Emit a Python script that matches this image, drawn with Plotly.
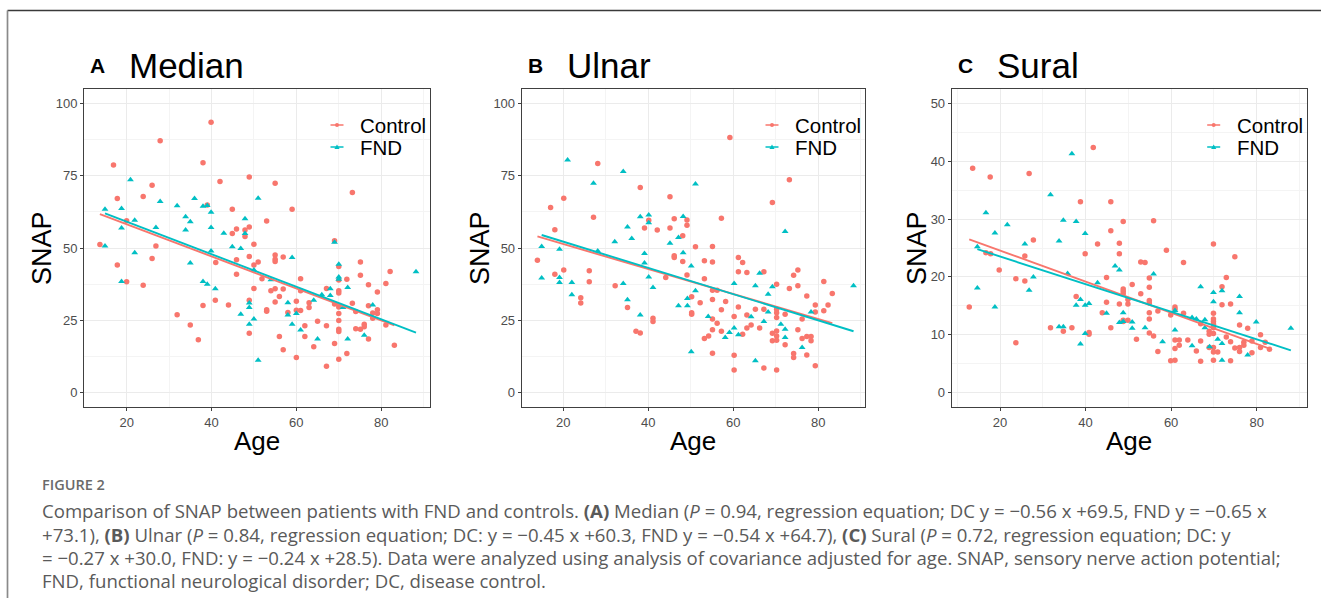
import plotly.graph_objects as go

W, H = 1321, 610

# ---------------- DATA ----------------
# Panel A: Median
ctrl_A_age = [13.7,16.9,17.8,17.8,20.0,20.0,23.9,23.9,26.0,26.0,26.9,27.9,31.9,35.0,36.9,38.0,38.0,39.0,39.9,40.9,41.0,42.0,44.0,44.9,44.9,45.9,45.9,45.9,47.9,47.9,48.9,48.9,48.9,48.9,48.9,50.0,50.0,50.0,51.0,51.9,53.0,54.0,53.0,53.0,55.0,55.0,55.0,55.0,55.0,55.0,56.0,56.0,56.9,56.9,56.9,58.0,59.0,60.0,60.0,60.0,61.0,61.0,61.0,62.0,62.0,63.0,63.0,64.1,65.0,67.1,67.1,67.1,69.0,69.0,69.0,70.0,70.0,70.0,70.0,70.0,70.0,70.0,70.0,70.0,70.0,71.9,71.9,73.2,73.2,74.0,74.0,75.1,75.1,75.1,76.0,76.0,77.0,77.0,77.0,78.0,78.0,79.1,79.1,79.1,81.1,81.1,82.1,83.1]
ctrl_A_snap = [51.2,78.7,67.1,44.1,38.3,59.4,67.8,37.1,71.7,46.4,50.7,87.1,26.9,23.4,18.3,79.5,30.1,64.9,93.5,31.9,45.0,73.0,30.3,63.4,55.0,56.6,45.9,40.9,56.2,54.0,74.6,57.3,47.1,31.9,20.5,51.3,44.1,36.0,45.2,39.4,59.3,35.2,28.6,28.1,72.4,47.6,46.1,45.3,35.9,31.3,33.2,19.4,46.9,35.8,14.8,27.7,63.4,31.6,28.5,12.1,39.4,35.2,28.4,23.1,19.4,31.1,29.4,15.8,24.7,36.0,23.1,9.1,52.5,30.6,17.0,43.6,38.9,35.2,34.4,29.6,27.3,24.9,21.9,21.1,11.5,39.2,13.5,69.2,30.9,28.0,22.1,45.2,40.6,21.9,23.6,22.8,37.3,30.0,18.5,27.5,25.7,34.8,28.6,27.3,37.7,23.4,41.9,16.4]
fnd_A_age = [14.9,14.9,18.8,18.8,18.8,20.9,21.9,21.9,26.9,27.9,31.9,33.9,33.9,35.0,35.0,36.0,38.0,38.0,39.0,39.0,39.9,39.9,39.9,40.9,42.9,44.9,46.9,46.9,47.9,47.9,48.9,48.9,48.9,50.0,50.0,51.0,51.0,54.0,58.0,58.0,59.0,59.0,60.0,61.0,64.1,65.0,66.0,68.0,68.0,69.0,70.0,70.0,70.0,71.0,72.1,72.1,76.0,78.0,88.2]
fnd_A_snap = [63.4,50.7,63.7,56.9,38.4,73.6,59.6,48.4,57.1,66.1,64.6,60.8,56.2,59.1,44.8,67.1,64.4,38.4,64.7,37.5,62.4,57.1,49.0,35.9,55.1,50.4,49.8,27.1,60.1,55.0,31.0,29.4,23.6,25.4,42.4,67.2,11.2,39.0,31.1,26.8,46.7,23.6,27.3,21.6,31.9,18.5,33.8,35.9,33.6,52.0,44.4,40.0,39.2,29.4,36.3,18.5,19.8,30.3,41.8]
fit_A_ctrl_age = [13.7, 83.1]
fit_A_ctrl_snap = [61.7, 23.2]
fit_A_fnd_age = [14.9, 88.2]
fit_A_fnd_snap = [62.0, 20.7]

# Panel B: Ulnar
ctrl_B_age = [13.9,17.0,18.0,18.0,20.1,20.1,24.1,24.1,26.1,26.1,27.1,28.1,32.2,35.1,37.1,38.1,38.1,39.1,40.1,41.1,41.1,42.1,44.1,45.1,45.1,46.1,46.1,46.1,48.1,48.1,49.1,49.1,49.1,50.2,50.2,50.2,51.1,52.2,53.2,53.2,53.2,54.2,55.1,55.1,55.1,55.1,55.1,55.1,55.1,56.2,56.2,57.2,57.2,57.2,58.2,59.2,60.2,60.2,60.2,61.2,61.2,61.2,62.2,62.2,63.2,63.2,63.2,64.2,65.2,66.2,67.2,67.2,67.2,69.2,69.2,69.2,70.2,70.2,70.2,70.2,70.2,70.2,70.2,70.2,72.2,72.2,73.2,73.2,74.2,74.2,74.2,75.2,75.2,75.2,76.2,76.2,77.3,77.3,77.3,78.3,78.3,79.3,79.3,79.3,81.3,81.3,82.3,83.3]
ctrl_B_snap = [45.8,64.0,56.3,40.9,67.2,42.4,32.8,31.0,42.1,38.3,60.6,79.2,36.9,29.4,21.2,70.9,20.6,56.9,59.6,25.7,24.6,56.2,39.8,67.7,56.9,60.1,47.3,46.7,54.2,45.3,59.7,57.9,40.7,33.1,27.6,27.1,50.4,31.1,45.6,39.4,18.7,19.6,50.5,45.2,35.4,32.2,25.4,21.7,13.6,35.4,24.0,60.3,28.6,21.2,31.5,88.2,26.3,12.9,7.8,46.7,41.8,29.6,45.0,20.2,41.5,26.8,22.3,23.4,28.8,22.3,41.8,28.8,8.5,65.7,20.5,17.9,37.5,28.8,27.6,26.0,21.3,19.6,18.1,7.8,27.1,16.5,73.6,36.0,13.5,12.1,40.6,42.4,36.9,21.7,25.4,18.7,33.4,19.4,13.0,19.4,17.9,30.3,27.9,9.3,38.4,28.3,30.3,34.3]
fnd_B_age = [14.9,14.9,19.1,19.1,19.1,21.0,22.0,22.0,27.1,28.1,32.1,34.1,34.1,35.1,35.1,36.1,38.1,38.1,39.1,39.1,40.1,40.1,40.1,41.1,45.1,47.1,47.1,48.2,48.2,49.2,49.2,50.1,50.1,51.1,51.1,54.1,58.1,59.1,60.2,60.2,61.2,64.2,65.2,65.2,66.2,67.2,68.2,68.2,69.2,71.2,72.2,72.2,72.2,76.2,78.3,88.3]
fnd_B_snap = [50.5,39.6,49.6,39.8,38.1,80.4,38.1,33.8,72.4,49.0,52.2,76.5,37.7,57.3,32.1,53.3,60.8,26.8,48.1,44.8,61.4,58.7,40.0,36.3,51.6,53.6,30.0,60.9,48.4,32.5,30.0,43.8,14.1,72.1,35.2,26.3,19.0,20.8,37.7,22.3,20.0,26.2,36.9,11.0,41.3,24.6,27.9,34.0,36.6,23.6,55.7,21.9,19.0,15.6,27.9,36.9]
fit_B_ctrl_age = [13.9, 83.3]
fit_B_ctrl_snap = [54.0, 24.0]
fit_B_fnd_age = [14.9, 88.3]
fit_B_fnd_snap = [54.5, 21.2]

# Panel C: Sural
ctrl_C_age = [12.8,13.6,16.7,17.7,17.8,19.8,23.7,23.7,25.8,25.8,26.8,27.8,31.8,34.8,36.8,37.8,38.8,39.9,40.8,40.8,41.8,42.8,43.9,44.9,44.9,45.9,45.9,45.9,47.9,47.9,47.9,48.8,48.8,48.8,48.8,48.8,48.8,49.9,49.9,49.9,50.9,51.9,52.9,52.9,53.9,54.9,54.9,54.9,54.9,54.9,54.9,54.9,55.9,55.9,56.9,56.9,58.9,59.9,59.9,60.9,60.9,60.9,60.9,60.9,61.9,61.9,62.9,62.9,63.9,65.9,66.9,66.9,66.9,68.9,68.9,68.9,69.9,69.9,69.9,69.9,69.9,69.9,69.9,69.9,69.9,69.9,70.9,71.9,71.9,72.9,72.9,73.9,73.9,73.9,74.9,74.9,76.0,76.0,76.0,77.0,77.0,77.9,78.9,78.9,80.9,80.9,82.0,83.0]
ctrl_C_snap = [14.8,38.8,24.2,37.3,24.0,21.2,8.6,19.7,23.6,19.3,37.9,26.4,11.2,10.6,11.2,16.6,33.0,24.0,10.4,10.1,42.4,25.7,13.8,19.9,15.6,33.0,28.0,11.2,25.8,24.0,15.3,29.6,17.9,17.5,17.1,12.5,12.3,16.1,15.3,12.5,18.7,9.2,17.1,22.6,22.5,19.8,18.2,15.9,15.5,13.8,12.7,10.3,29.7,9.8,14.1,7.1,24.6,13.4,5.5,14.8,14.4,9.1,7.6,5.6,9.1,8.2,22.5,13.7,9.1,7.2,8.9,11.9,5.4,10.6,10.1,7.8,25.7,13.7,12.7,12.3,11.8,11.2,10.2,7.8,7.0,5.6,7.0,18.3,15.2,19.9,9.6,15.3,8.8,5.5,23.5,7.7,11.7,7.8,7.1,8.7,8.2,11.1,8.9,6.9,10.0,7.8,8.7,7.5]
fnd_C_age = [14.7,14.7,16.7,18.8,18.8,21.7,25.8,26.8,27.8,31.8,33.8,33.8,34.8,34.8,35.8,36.8,37.8,37.8,38.8,38.8,39.9,39.9,40.8,39.9,42.8,44.9,46.9,47.9,47.9,48.8,48.8,50.9,50.9,53.9,55.9,58.0,60.9,60.9,64.9,64.9,65.9,66.9,67.9,67.9,69.0,69.9,69.9,70.9,71.9,71.9,71.9,76.0,76.0,77.9,79.9,88.0]
fnd_C_snap = [25.2,18.1,31.1,27.6,14.8,29.0,25.7,17.7,20.0,34.2,26.2,11.4,29.8,11.4,20.6,41.3,29.6,15.1,16.1,8.4,27.5,15.1,15.4,10.2,19.0,13.7,21.9,21.2,12.1,13.8,12.3,12.2,11.1,11.2,20.5,8.8,14.2,10.8,13.0,8.1,12.7,18.3,12.6,11.2,7.9,17.3,15.7,9.2,17.6,8.5,5.6,16.6,13.8,6.5,12.2,11.1]
fit_C_ctrl_age = [12.8, 83.0]
fit_C_ctrl_snap = [26.5, 7.6]
fit_C_fnd_age = [14.7, 88.0]
fit_C_fnd_snap = [24.8, 7.3]

panel_letters = ["A", "B", "C"]
panel_titles = ["Median", "Ulnar", "Sural"]
group_names = ["Control", "FND"]
y_ticks_AB = [0, 25, 50, 75, 100]
y_ticks_C = [0, 10, 20, 30, 40, 50]
x_ticks = [20, 40, 60, 80]

caption_label = "FIGURE 2"
caption_lines = [
    "Comparison of SNAP between patients with FND and controls. <b>(A)</b> Median (<i>P</i> = 0.94, regression equation; DC y = \u22120.56 x +69.5, FND y = \u22120.65 x",
    "+73.1), <b>(B)</b> Ulnar (<i>P</i> = 0.84, regression equation; DC: y = \u22120.45 x +60.3, FND y = \u22120.54 x +64.7), <b>(C)</b> Sural (<i>P</i> = 0.72, regression equation; DC: y",
    "= \u22120.27 x +30.0, FND: y = \u22120.24 x +28.5). Data were analyzed using analysis of covariance adjusted for age. SNAP, sensory nerve action potential;",
    "FND, functional neurological disorder; DC, disease control.",
]

# ---------------- STYLE / LAYOUT ----------------
RED = "#F8766D"
TEAL = "#00BFC4"
FONT = "Arial, Liberation Sans, sans-serif"
CAP_FONT = "Open Sans, Lato, sans-serif"

def px(x):
    return x / W

def py(y):
    return 1 - y / H

panels = [
    dict(ctrl=(ctrl_A_age, ctrl_A_snap), fnd=(fnd_A_age, fnd_A_snap),
         fc=(fit_A_ctrl_age, fit_A_ctrl_snap), ff=(fit_A_fnd_age, fit_A_fnd_snap),
         xd=(84, 430), xr=[9.95, 91.5], yr=[-5, 105], yt=y_ticks_AB, ymin=12.5,
         snap_x=42),
    dict(ctrl=(ctrl_B_age, ctrl_B_snap), fnd=(fnd_B_age, fnd_B_snap),
         fc=(fit_B_ctrl_age, fit_B_ctrl_snap), ff=(fit_B_fnd_age, fit_B_fnd_snap),
         xd=(521.7, 865), xr=[10.2, 91.0], yr=[-5, 105], yt=y_ticks_AB, ymin=12.5,
         snap_x=480),
    dict(ctrl=(ctrl_C_age, ctrl_C_snap), fnd=(fnd_C_age, fnd_C_snap),
         fc=(fit_C_ctrl_age, fit_C_ctrl_snap), ff=(fit_C_fnd_age, fit_C_fnd_snap),
         xd=(951.7, 1306.7), xr=[8.7, 91.7], yr=[-2.5, 52.5], yt=y_ticks_C, ymin=5,
         snap_x=917),
]

TOP, BOT = 89, 407
LEG_Y = [125, 147]

fig = go.Figure()
layout = dict(width=W, height=H, margin=dict(l=0, r=0, t=0, b=0),
              paper_bgcolor="white", plot_bgcolor="white", showlegend=False)
annotations = []
shapes = [
    dict(type="line", xref="paper", yref="paper", x0=px(7.5), x1=1, y0=py(10.5), y1=py(10.5),
         line=dict(color="#3a3a3a", width=1.3)),
    dict(type="line", xref="paper", yref="paper", x0=px(7.5), x1=px(7.5), y0=py(10.5), y1=py(598),
         line=dict(color="#8a8a8a", width=1.7)),
]

for i, p in enumerate(panels):
    n = "" if i == 0 else str(i + 1)
    xa, ya = "x" + n, "y" + n
    fig.add_trace(go.Scatter(x=p["ctrl"][0], y=p["ctrl"][1], mode="markers", xaxis=xa, yaxis=ya,
                             name=group_names[0],
                             marker=dict(color=RED, size=5.5, symbol="circle")))
    fig.add_trace(go.Scatter(x=p["fnd"][0], y=p["fnd"][1], mode="markers", xaxis=xa, yaxis=ya,
                             name=group_names[1],
                             marker=dict(color=TEAL, size=6, symbol="triangle-up")))
    fig.add_trace(go.Scatter(x=p["fc"][0], y=p["fc"][1], mode="lines", xaxis=xa, yaxis=ya,
                             name=group_names[0], line=dict(color=RED, width=1.9)))
    fig.add_trace(go.Scatter(x=p["ff"][0], y=p["ff"][1], mode="lines", xaxis=xa, yaxis=ya,
                             name=group_names[1], line=dict(color=TEAL, width=1.9)))

    x0, x1 = p["xd"]
    common = dict(showline=True, mirror=True, linecolor="#404040", linewidth=1,
                  ticks="outside", ticklen=3, tickcolor="#404040", tickwidth=1,
                  showgrid=True, gridcolor="#EBEBEB", gridwidth=1, zeroline=False,
                  tickfont=dict(family=FONT, size=13, color="#4D4D4D"))
    layout["xaxis" + n] = dict(domain=[px(x0), px(x1)], range=p["xr"], anchor=ya,
                               tickmode="array", tickvals=x_ticks,
                               minor=dict(tickmode="array", tickvals=[10, 30, 50, 70, 90], showgrid=True,
                                          gridcolor="#F4F4F4", gridwidth=0.7, ticks=""),
                               **common)
    yminor = [v + p["ymin"] for v in p["yt"]][:-1]
    layout["yaxis" + n] = dict(domain=[py(BOT), py(TOP)], range=p["yr"], anchor=xa,
                               tickmode="array", tickvals=p["yt"],
                               minor=dict(tickmode="array", tickvals=yminor, showgrid=True,
                                          gridcolor="#F4F4F4", gridwidth=0.7, ticks=""),
                               **common)

    # legend (drawn inside the panel, like ggplot's inset legend)
    shapes.append(dict(type="rect", xref="paper", yref="paper", layer="between",
                       x0=px(x1 - 107), x1=px(x1 - 1), y0=py(157), y1=py(100),
                       fillcolor="white", line=dict(width=0)))
    gx0, gx1, gxm = x1 - 99.5, x1 - 86.5, x1 - 93
    for k, (col, yy) in enumerate(zip([RED, TEAL], LEG_Y)):
        shapes.append(dict(type="line", xref="paper", yref="paper", x0=px(gx0), x1=px(gx1),
                           y0=py(yy), y1=py(yy), line=dict(color=col, width=1.5)))
        if k == 0:
            shapes.append(dict(type="circle", xref="paper", yref="paper",
                               x0=px(gxm - 2), x1=px(gxm + 2), y0=py(yy + 2), y1=py(yy - 2),
                               fillcolor=col, line=dict(width=0)))
        else:
            path = "M {:.5f},{:.5f} L {:.5f},{:.5f} L {:.5f},{:.5f} Z".format(
                px(gxm - 2.6), py(yy + 2), px(gxm + 2.6), py(yy + 2), px(gxm), py(yy - 2.6))
            shapes.append(dict(type="path", xref="paper", yref="paper", path=path,
                               fillcolor=col, line=dict(width=0)))
        annotations.append(dict(text=group_names[k], x=px(x1 - 72), y=py(yy),
                                xref="paper", yref="paper", xanchor="left", yanchor="middle",
                                showarrow=False, font=dict(family=FONT, size=20.5, color="black")))

    # titles
    annotations.append(dict(text="<b>" + panel_letters[i] + "</b>", x=px(x0 + 4), y=py(66),
                            xref="paper", yref="paper", xanchor="left", yanchor="middle",
                            showarrow=False, font=dict(family=FONT, size=21, color="black")))
    annotations.append(dict(text=panel_titles[i], x=px(x0 + 43), y=py(65),
                            xref="paper", yref="paper", xanchor="left", yanchor="middle",
                            showarrow=False, font=dict(family=FONT, size=35, color="black")))
    annotations.append(dict(text="SNAP", x=px(p["snap_x"]), y=py((TOP + BOT) / 2), textangle=-90,
                            xref="paper", yref="paper", xanchor="center", yanchor="middle",
                            showarrow=False, font=dict(family=FONT, size=27, color="black")))
    annotations.append(dict(text="Age", x=px((x0 + x1) / 2), y=py(441),
                            xref="paper", yref="paper", xanchor="center", yanchor="middle",
                            showarrow=False, font=dict(family=FONT, size=26, color="black")))

# caption
annotations.append(dict(text=caption_label, x=px(40), y=py(484), xref="paper", yref="paper",
                        xanchor="left", yanchor="middle", showarrow=False,
                        font=dict(family=CAP_FONT, size=14.5, color="#6a6a6a", weight=600)))
cap_y = [510, 534, 557, 580]
for line, yy in zip(caption_lines, cap_y):
    annotations.append(dict(text=line, x=px(40), y=py(yy), xref="paper", yref="paper",
                            xanchor="left", yanchor="middle", showarrow=False,
                            font=dict(family=CAP_FONT, size=18.6, color="#5a5a5a")))

layout["annotations"] = annotations
layout["shapes"] = shapes
fig.update_layout(**layout)
fig.write_html("out.html", config={"displayModeBar": False},
               post_script="document.body.style.margin='0px';")
